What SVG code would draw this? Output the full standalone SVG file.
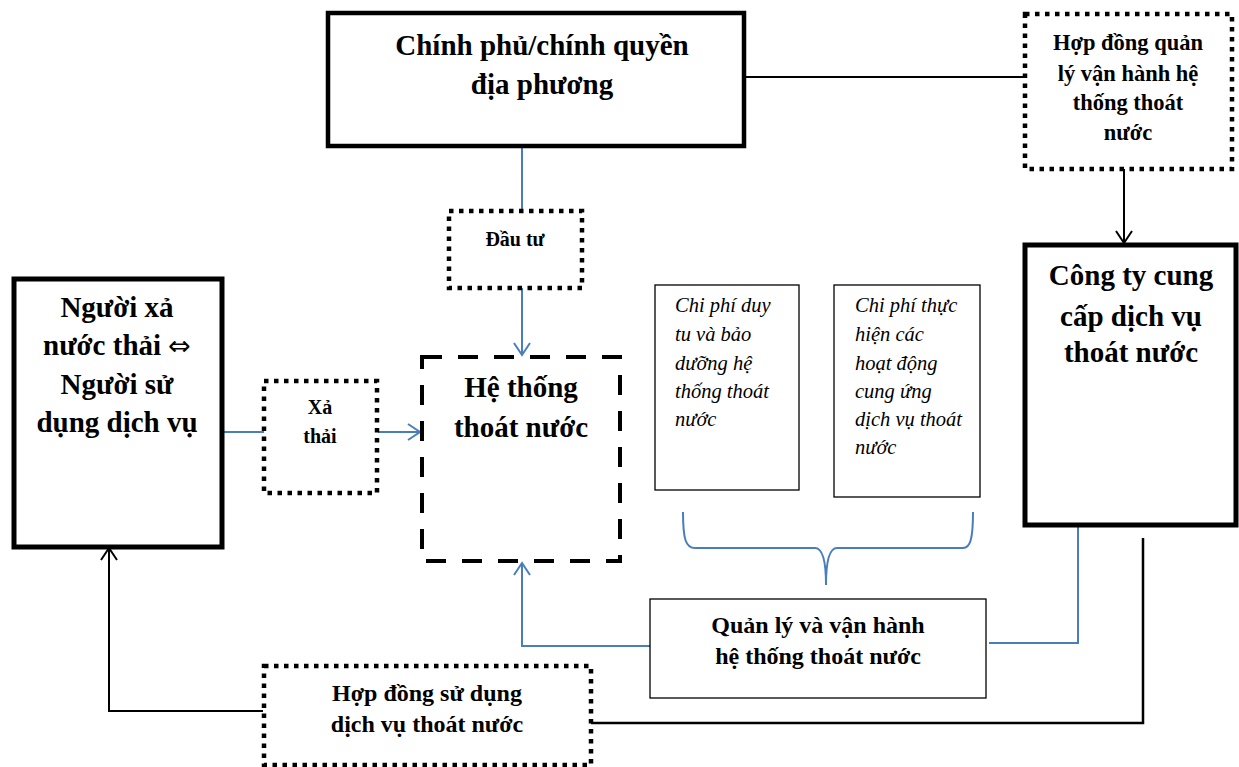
<svg xmlns="http://www.w3.org/2000/svg" width="1239" height="767" viewBox="0 0 1239 767">
<style>
text{font-family:"Liberation Serif","DejaVu Serif",serif;fill:#000;text-anchor:middle}
.b{font-weight:bold}
.it{font-style:italic;text-anchor:start}
.thick{fill:#fff;stroke:#000;stroke-width:4.5}
.dot{fill:#fff;stroke:#000;stroke-width:4.5;stroke-dasharray:4.5 5.5}
.dash{fill:#fff;stroke:#000;stroke-width:4;stroke-dasharray:20 16}
.thin{fill:#fff;stroke:#000;stroke-width:1.3}
.bl{fill:none;stroke:#4a7ebb;stroke-width:2}
.bk{fill:none;stroke:#000;stroke-width:2}
</style>
<defs>
<marker id="ab" markerUnits="userSpaceOnUse" markerWidth="20" markerHeight="22" refX="13" refY="9" orient="auto"><path d="M1,1 L13,9 L1,17" fill="none" stroke="#4a7ebb" stroke-width="2"/></marker>
<marker id="ak" markerUnits="userSpaceOnUse" markerWidth="20" markerHeight="22" refX="13" refY="9" orient="auto"><path d="M1,1 L13,9 L1,17" fill="none" stroke="#000" stroke-width="2"/></marker>
</defs>
<rect width="1239" height="767" fill="#fff"/>
<g id="connectors">
<path class="bk" d="M745,77 L1023,77"/>
<path class="bk" d="M1124,169 L1124,243" marker-end="url(#ak)"/>
<path class="bl" d="M522,147 L522,211"/>
<path class="bl" d="M522,288 L522,355" marker-end="url(#ab)"/>
<path class="bl" d="M222,432 L264,432"/>
<path class="bl" d="M378,432 L420,432" marker-end="url(#ab)"/>
<path class="bl" d="M650,646 L522,646 L522,563" marker-end="url(#ab)"/>
<path class="bl" d="M989,643 L1078,643 L1078,527"/>
<path class="bk" style="stroke-width:2.5" d="M1143,538 L1143,723 L591,723"/>
<path class="bk" d="M263,711 L109,711 L109,548" marker-end="url(#ak)"/>
<path class="bl" d="M683,512 C683,540 686,548 695,548 L815,548 C822,548 826,560 826,585 C826,560 830,548 837,548 L963,548 C970,548 973,540 973,512"/>
</g>
<g id="chinh-phu">
<rect class="thick" x="328" y="13" width="416" height="133"/>
<text class="b" x="542" y="55" font-size="29">Chính phủ/chính quyền</text>
<text class="b" x="542" y="94" font-size="29">địa phương</text>
</g>
<g id="hop-dong-quan-ly">
<rect class="dot" x="1025" y="14" width="207" height="155"/>
<text class="b" x="1128" y="50" font-size="22.5">Hợp đồng quản</text>
<text class="b" x="1128" y="81" font-size="22.5">lý vận hành hệ</text>
<text class="b" x="1128" y="110" font-size="22.5">thống thoát</text>
<text class="b" x="1128" y="140" font-size="22.5">nước</text>
</g>
<g id="cong-ty">
<rect class="thick" style="stroke-width:5" x="1025" y="245" width="211" height="280"/>
<text class="b" x="1131" y="285" font-size="29">Công ty cung</text>
<text class="b" x="1131" y="326" font-size="29">cấp dịch vụ</text>
<text class="b" x="1131" y="362" font-size="29">thoát nước</text>
</g>
<g id="nguoi-xa">
<rect class="thick" style="stroke-width:5" x="14" y="279" width="208" height="268"/>
<text class="b" x="117" y="317" font-size="29">Người xả</text>
<text class="b" x="117" y="355" font-size="29">nước thải <tspan font-family="DejaVu Sans" font-weight="normal" font-size="27">⇔</tspan></text>
<text class="b" x="117" y="394" font-size="29">Người sử</text>
<text class="b" x="117" y="432" font-size="29">dụng dịch vụ</text>
</g>
<g id="xa-thai">
<rect class="dot" x="264" y="381" width="113" height="112"/>
<text class="b" x="320" y="414" font-size="20">Xả</text>
<text class="b" x="320" y="443" font-size="20">thải</text>
</g>
<g id="dau-tu">
<rect class="dot" x="449" y="211" width="133" height="77"/>
<text class="b" x="515" y="246" font-size="20">Đầu tư</text>
</g>
<g id="he-thong">
<rect class="dash" x="422" y="357" width="198" height="204"/>
<text class="b" x="521" y="397" font-size="29">Hệ thống</text>
<text class="b" x="521" y="437" font-size="29">thoát nước</text>
</g>
<g id="chi-phi-1">
<rect class="thin" x="655" y="285" width="144" height="205"/>
<text class="it" x="675" y="312" font-size="20.5">Chi phí duy</text>
<text class="it" x="675" y="341" font-size="20.5">tu và bảo</text>
<text class="it" x="675" y="370" font-size="20.5">dưỡng hệ</text>
<text class="it" x="675" y="398" font-size="20.5">thống thoát</text>
<text class="it" x="675" y="426" font-size="20.5">nước</text>
</g>
<g id="chi-phi-2">
<rect class="thin" x="834" y="285" width="146" height="212"/>
<text class="it" x="855" y="312" font-size="20.5">Chi phí thực</text>
<text class="it" x="855" y="341" font-size="20.5">hiện các</text>
<text class="it" x="855" y="370" font-size="20.5">hoạt động</text>
<text class="it" x="855" y="398" font-size="20.5">cung ứng</text>
<text class="it" x="855" y="426" font-size="20.5">dịch vụ thoát</text>
<text class="it" x="855" y="454" font-size="20.5">nước</text>
</g>
<g id="quan-ly">
<rect class="thin" x="650" y="599" width="336" height="99"/>
<text class="b" x="818" y="633" font-size="24">Quản lý và vận hành</text>
<text class="b" x="818" y="664" font-size="24">hệ thống thoát nước</text>
</g>
<g id="hop-dong-su-dung">
<rect class="dot" x="264" y="666" width="327" height="99"/>
<text class="b" x="427" y="701" font-size="24">Hợp đồng sử dụng</text>
<text class="b" x="427" y="732" font-size="24">dịch vụ thoát nước</text>
</g>
</svg>
